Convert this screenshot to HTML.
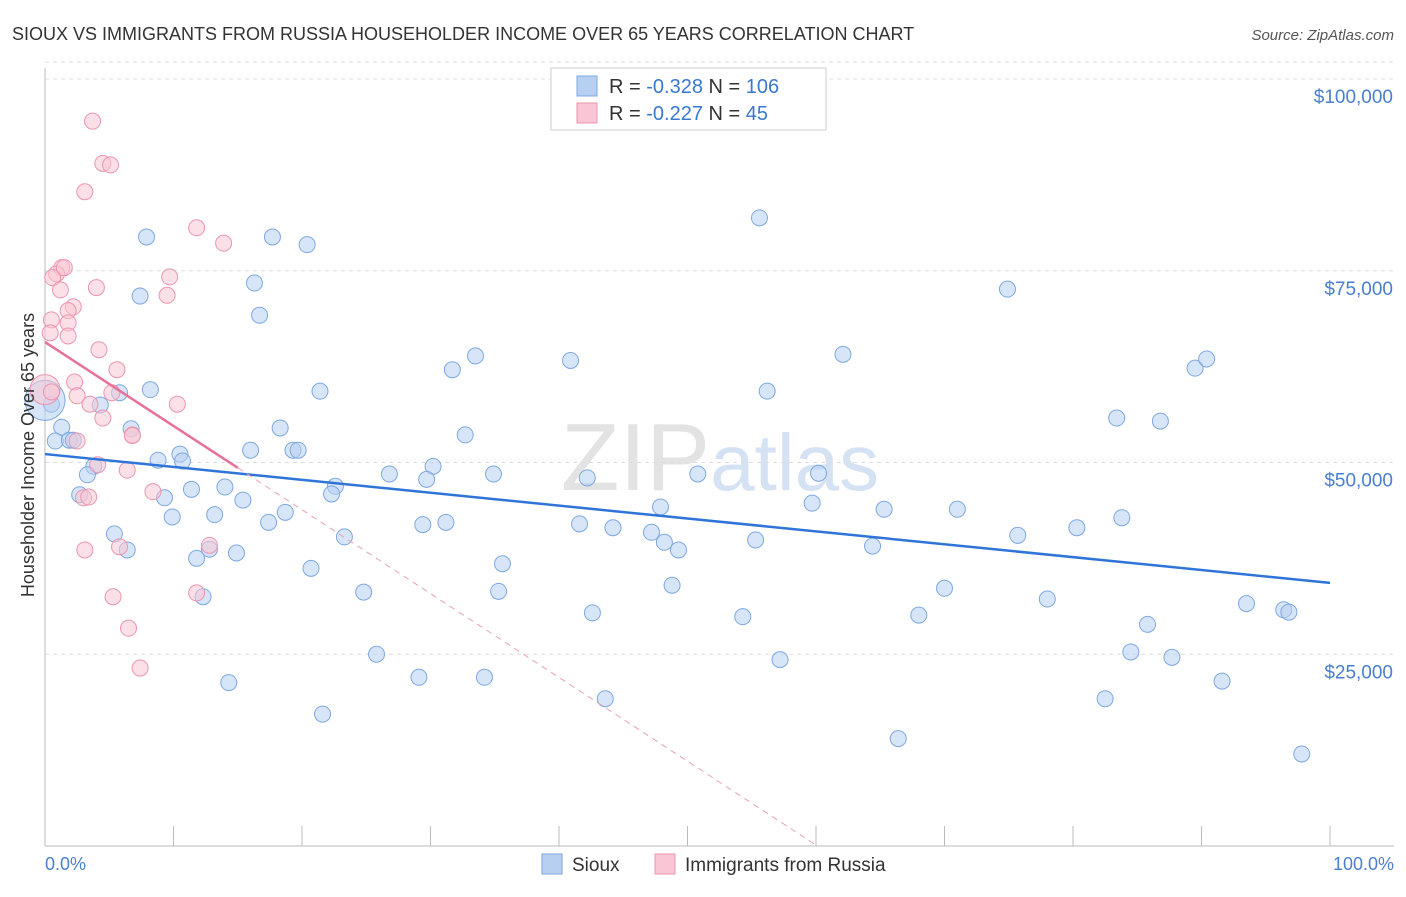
<!DOCTYPE html>
<html><head><meta charset="utf-8"><style>
body{margin:0;background:#fff;font-family:"Liberation Sans",sans-serif;}
svg text{font-family:"Liberation Sans",sans-serif;}
</style></head><body>
<svg id="chart" width="1406" height="892" xmlns="http://www.w3.org/2000/svg">
<text x="12" y="40" font-size="18" fill="#333">SIOUX VS IMMIGRANTS FROM RUSSIA HOUSEHOLDER INCOME OVER 65 YEARS CORRELATION CHART</text>
<text x="1394" y="40" font-size="15" fill="#555" text-anchor="end" font-style="italic">Source: ZipAtlas.com</text>
<text x="720" y="490" font-size="96" fill="#e3e3e3" text-anchor="middle" font-family="Liberation Serif">ZIP<tspan fill="#d5e2f3" font-family="Liberation Sans" font-size="80">atlas</tspan></text>
<g id="grid"></g>
<g id="axes"></g>
<g id="marks"></g>
<text transform="translate(34,455) rotate(-90)" font-size="18" fill="#333" text-anchor="middle">Householder Income Over 65 years</text>
<text x="45" y="870" font-size="18" fill="#4a7fd0">0.0%</text>
<text x="1394" y="870" font-size="18" fill="#4a7fd0" text-anchor="end">100.0%</text>
<g>
<rect x="551" y="68" width="275" height="62" fill="#fff" stroke="#ccc"/>
<rect x="577" y="76" width="20" height="20" fill="#b7d0f2" stroke="#7ea8e0"/>
<rect x="577" y="103" width="20" height="20" fill="#f8c6d4" stroke="#eb96ae"/>
<text x="609" y="93" font-size="20" fill="#333">R = <tspan fill="#3a78d0">-0.328</tspan>   N = <tspan fill="#3a78d0">106</tspan></text>
<text x="609" y="120" font-size="20" fill="#333">R = <tspan fill="#3a78d0">-0.227</tspan>   N =   <tspan fill="#3a78d0">45</tspan></text>
</g>
<g>
<rect x="542" y="854" width="20" height="20" fill="#b7d0f2" stroke="#7ea8e0"/>
<text x="572" y="871" font-size="19" fill="#333">Sioux</text>
<rect x="655" y="854" width="20" height="20" fill="#f8c6d4" stroke="#eb96ae"/>
<text x="685" y="871" font-size="19" fill="#333">Immigrants from Russia</text>
</g>
</svg>
<script>
const yTicks=[25000,50000,75000,100000];
const yTickLabels=["$25,000","$50,000","$75,000","$100,000"];
const xTicks=[0,10,20,30,40,50,60,70,80,90,100];
const siouxX=[7.9,17.7,20.4,7.4,16.3,16.7,55.6,74.9,62.1,40.9,33.5,31.7,89.5,90.4,56.2,21.4,8.2,5.8,4.3,0.5,83.4,86.8,32.7,1.3,6.7,0.8,1.9,2.2,18.3,16.0,19.3,19.7,10.5,10.7,8.8,3.8,3.3,30.2,26.8,29.7,34.9,42.2,50.8,60.2,22.6,22.3,11.4,14.0,9.3,15.4,2.7,59.7,47.9,65.3,71.0,83.8,80.3,18.7,13.2,9.9,17.4,31.2,29.4,41.6,44.2,47.2,48.2,49.3,55.3,64.4,75.7,23.3,5.4,6.4,12.8,14.9,11.8,20.7,35.6,48.8,24.8,35.3,70.0,78.0,93.5,96.4,96.8,12.3,42.6,54.3,68.0,85.8,25.8,84.5,87.7,57.2,29.1,34.2,14.3,91.6,43.6,82.5,21.6,66.4,97.8,0];
const siouxY=[79.4,79.4,78.4,71.7,73.4,69.2,81.9,72.6,64.1,63.3,63.9,62.1,62.3,63.5,59.3,59.3,59.5,59.1,57.5,57.6,55.8,55.4,53.6,54.6,54.4,52.8,52.9,52.9,54.5,51.6,51.6,51.6,51.1,50.2,50.3,49.5,48.4,49.5,48.5,47.8,48.5,48.0,48.5,48.6,46.9,45.9,46.5,46.8,45.4,45.1,45.8,44.7,44.2,43.9,43.9,42.8,41.5,43.5,43.2,42.9,42.2,42.2,41.9,42.0,41.5,40.9,39.6,38.6,39.9,39.1,40.5,40.3,40.7,38.6,38.7,38.2,37.5,36.2,36.8,34.0,33.1,33.2,33.6,32.2,31.6,30.8,30.5,32.5,30.4,29.9,30.1,28.9,25.0,25.3,24.6,24.3,22.0,22.0,21.3,21.5,19.2,19.2,17.2,14.0,12.0,58.1];
const russiaX=[3.7,4.5,5.1,3.1,11.8,13.9,1.3,0.9,0.6,1.5,9.7,4.0,9.5,1.2,2.2,1.8,0.5,1.8,0.4,1.8,4.2,5.6,2.3,0,0.5,2.5,5.2,3.5,10.3,4.5,6.8,2.5,4.1,6.4,8.4,3.0,3.4,3.1,5.8,12.8,11.8,5.3,6.5,7.4,6.8];
const russiaY=[94.5,89.0,88.8,85.3,80.6,78.6,75.4,74.6,74.1,75.4,74.2,72.8,71.8,72.5,70.3,69.8,68.6,68.2,66.9,66.5,64.7,62.1,60.5,59.5,59.2,58.7,59.1,57.6,57.6,55.8,53.6,52.8,49.7,49.0,46.2,45.4,45.5,38.6,39.0,39.2,33.0,32.5,28.4,23.2,53.5];
const siouxTrend=[51.1,34.3];
const russiaTrend=[65.7,-1.093];
const NS="http://www.w3.org/2000/svg";
const xs=p=>45+p*12.85;
const ys=v=>846-v*7.67/1000*1000;
const ysk=k=>846-k*7.67;
function mk(t,a,parent){const e=document.createElementNS(NS,t);for(const k in a)e.setAttribute(k,a[k]);document.getElementById(parent).appendChild(e);return e;}
yTicks.forEach((t,i)=>{
 const l=mk('line',{x1:45,x2:1394,y1:ysk(t/1000),y2:ysk(t/1000),stroke:'#ddd','stroke-dasharray':'4,4'},'grid');
 
 
 const tx=mk('text',{x:1393,y:ysk(t/1000)+24,'font-size':19,fill:'#4a7fd0','text-anchor':'end'},'grid');
 tx.textContent=yTickLabels[i];
 
 
});
const tg=mk('line',{x1:45,x2:1394,y1:ysk(100)-17,y2:ysk(100)-17,stroke:'#ddd','stroke-dasharray':'4,4'},'grid');


const ya=mk('line',{x1:45,x2:45,y1:68,y2:846,stroke:'#bbb'},'axes');


const xa=mk('line',{x1:45,x2:1394,y1:846,y2:846,stroke:'#bbb'},'axes');


xTicks.forEach(t=>{
 const l=mk('line',{x1:xs(t),x2:xs(t),y1:826,y2:846,stroke:'#bbb'},'axes');
 
 
});
function dot(x,y,r,fill,stroke,name){
 const c=mk('circle',{cx:xs(x),cy:ysk(y),r:r,fill:fill,stroke:stroke,'stroke-width':1,'fill-opacity':0.55},'marks');
 
 
}
siouxX.forEach((x,i)=>dot(x,siouxY[i],i===siouxX.length-1?20:8,'#b7d0f2','#7ea8e0','sioux-point'));
russiaX.forEach((x,i)=>dot(x,russiaY[i],i===23?15:8,'#f8c6d4','#eb96ae','russia-point'));
const bt=mk('line',{x1:xs(0),y1:ysk(siouxTrend[0]),x2:xs(100),y2:ysk(siouxTrend[1]),stroke:'#2f74d8','stroke-width':2.5},'marks');


const pr=x=>russiaTrend[0]+russiaTrend[1]*x;
const zero=-russiaTrend[0]/russiaTrend[1];
const pt=mk('line',{x1:xs(0),y1:ysk(pr(0)),x2:xs(15),y2:ysk(pr(15)),stroke:'#e8719a','stroke-width':2.5},'marks');


const pd=mk('line',{x1:xs(15),y1:ysk(pr(15)),x2:xs(zero),y2:ysk(0),stroke:'#e8a0b8','stroke-width':1,'stroke-dasharray':'6,5'},'marks');


</script>
</body></html>
